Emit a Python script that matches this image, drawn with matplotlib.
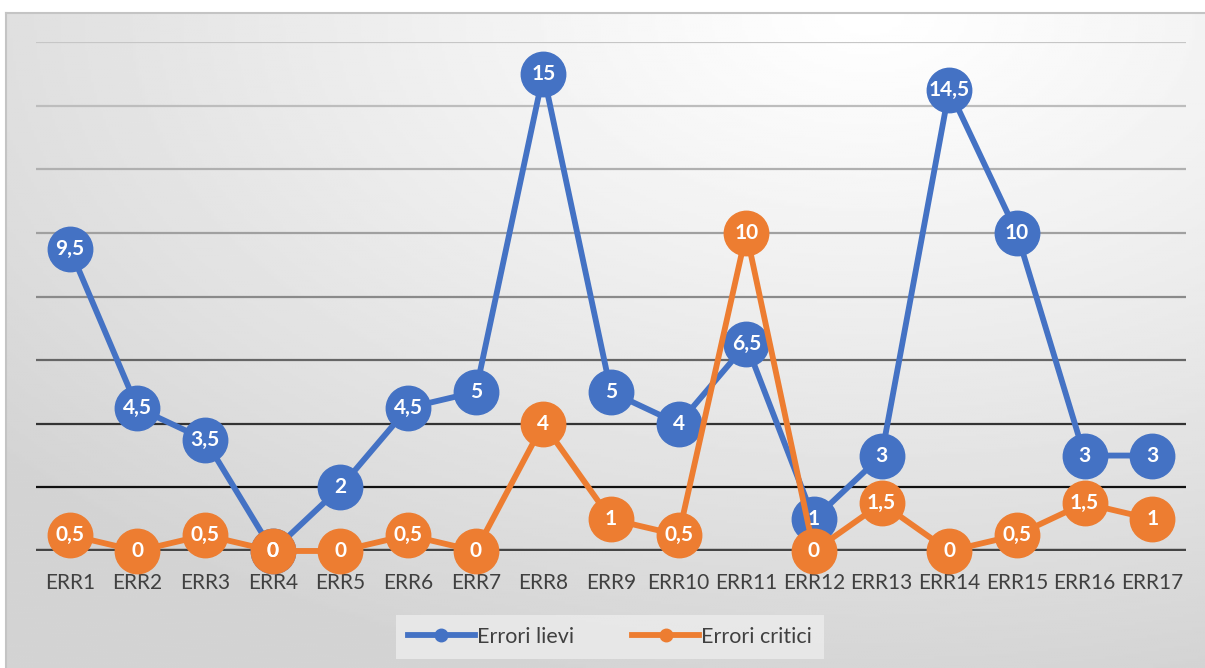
import matplotlib.pyplot as plt
import numpy as np
from matplotlib.lines import Line2D

categories = ['ERR1', 'ERR2', 'ERR3', 'ERR4', 'ERR5', 'ERR6', 'ERR7', 'ERR8', 'ERR9',
              'ERR10', 'ERR11', 'ERR12', 'ERR13', 'ERR14', 'ERR15', 'ERR16', 'ERR17']
errori_lievi = [9.5, 4.5, 3.5, 0, 2, 4.5, 5, 15, 5, 4, 6.5, 1, 3, 14.5, 10, 3, 3]
errori_critici = [0.5, 0, 0.5, 0, 0, 0.5, 0, 4, 1, 0.5, 10, 0, 1.5, 0, 0.5, 1.5, 1]

plt.rcParams['font.family'] = ['Lato', 'DejaVu Sans']

W, H = 1205, 668
fig = plt.figure(figsize=(W / 100, H / 100), dpi=100)
fig.patch.set_facecolor('white')

# background panel with soft radial gradient
bg = fig.add_axes([6 / W, 0, 1 - 6 / W, (H - 13) / H])
gx, gy = np.meshgrid(np.linspace(0, 1, 400), np.linspace(0, 1, 250))
d = np.sqrt(((gx - 0.72) / 1.0) ** 2 + ((gy - 0.0) / 1.1) ** 2)
shade = 1.0 - 0.17 * np.clip(d / 0.95, 0, 1) ** 1.1
bg.imshow(shade, cmap='gray', vmin=0, vmax=1, aspect='auto', extent=[0, 1, 1, 0])
bg.set_xticks([])
bg.set_yticks([])
for k, s in bg.spines.items():
    s.set_color('#c4c4c4')
    s.set_linewidth(1.5)
    if k in ('right', 'bottom'):
        s.set_visible(False)

ax = fig.add_axes([36 / W, (H - 551) / H, 1150 / W, (551 - 42) / H])
ax.patch.set_alpha(0)
x = np.arange(len(categories))

grid_levels = np.arange(0, 17, 2)
grid_colors = ['#454545', '#111111', '#333333', '#666666', '#8a8a8a', '#a0a0a0', '#b0b0b0', '#bdbdbd', '#c6c6c6']
for lvl, c in zip(grid_levels, grid_colors):
    ax.axhline(lvl, color=c, lw=3.2 if lvl == 0 else 1.6, zorder=1)

ax.plot(x, errori_lievi, color='#4472C4', lw=4.2, marker='o', markersize=32,
        label='Errori lievi', zorder=3, clip_on=False)
ax.plot(x, errori_critici, color='#ED7D31', lw=4.2, marker='o', markersize=32,
        label='Errori critici', zorder=4, clip_on=False)

for xs, ys in [(x, errori_lievi), (x, errori_critici)]:
    for xi, yi in zip(xs, ys):
        txt = f'{yi:g}'.replace('.', ',')
        ax.text(xi, yi, txt, ha='center', va='center', color='white',
                fontsize=15, fontweight='bold', zorder=6)

ax.set_xlim(-0.5, len(categories) - 0.5)
ax.set_ylim(0, 16)
ax.set_xticks(x)
ax.set_xticklabels(categories, fontsize=15, color='#404040')
ax.tick_params(axis='x', length=0, pad=16)
ax.set_yticks([])
for s in ax.spines.values():
    s.set_visible(False)

labels = ['Errori lievi', 'Errori critici']
h = [Line2D([], [], color='#4472C4', lw=4.2, marker='o', markersize=9),
     Line2D([], [], color='#ED7D31', lw=4.2, marker='o', markersize=9)]
leg = fig.legend(h, labels, loc='center', bbox_to_anchor=(610 / W, (H - 637) / H),
                 ncol=2, fontsize=15.5, frameon=True, fancybox=False,
                 handlelength=3.1, handletextpad=0.1, columnspacing=2.7,
                 borderpad=0.55, borderaxespad=0)
leg.get_frame().set_facecolor('#ebebeb')
leg.get_frame().set_edgecolor('none')
leg.get_frame().set_alpha(0.85)
for t in leg.get_texts():
    t.set_color('#404040')

fig.savefig('out.png', dpi=100)
